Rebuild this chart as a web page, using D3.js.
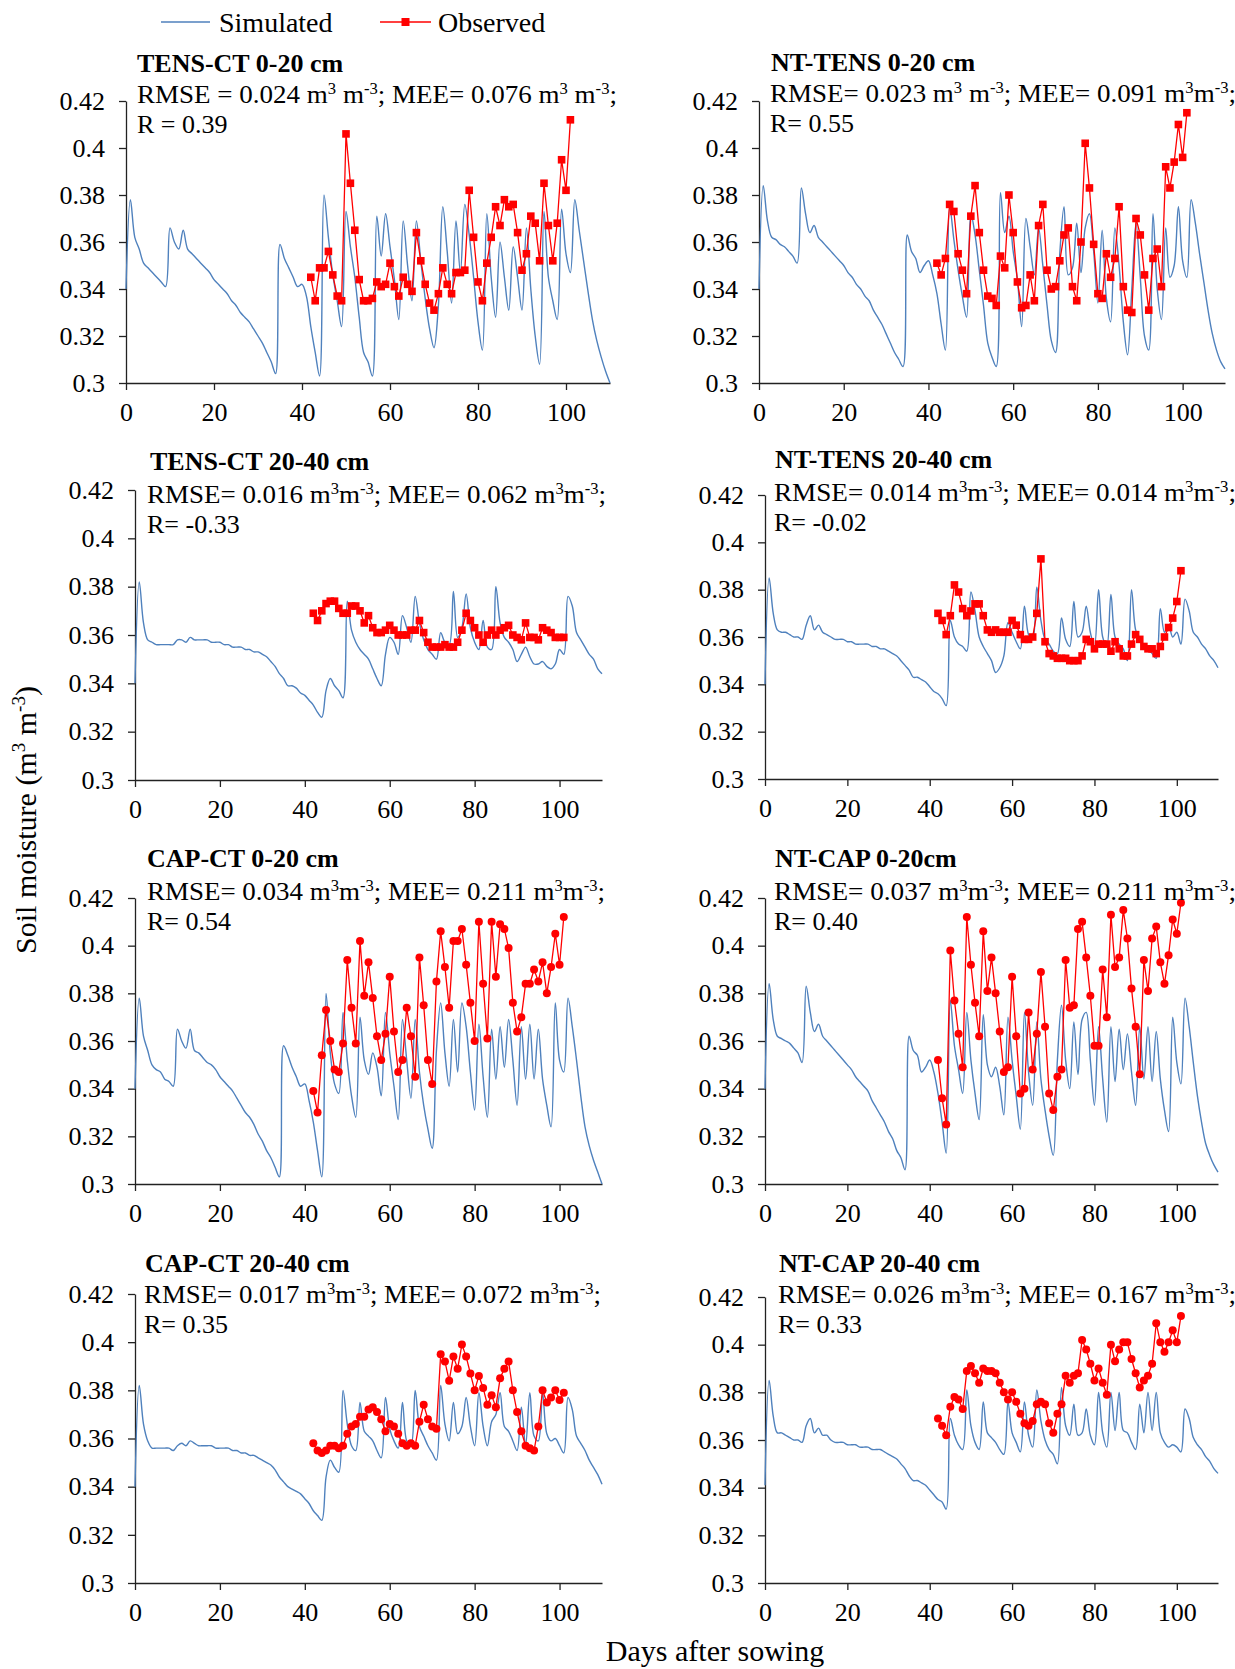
<!DOCTYPE html>
<html>
<head>
<meta charset="utf-8">
<script src="https://cdn.jsdelivr.net/npm/d3@7"></script>
<style>
  body { margin: 0; background: #fff; }
  svg, svg text { font-family: "Liberation Serif", "Times New Roman", serif; }
</style>
</head>
<body>
<div id="chart"></div>
<script>
// days after sowing
var simDays = d3.range(0, 111);
var obsDays = d3.range(42, 102);

var xTicks = [0, 20, 40, 60, 80, 100];
var yTicks = [0.3, 0.32, 0.34, 0.36, 0.38, 0.4, 0.42];
var yTickLabels = ["0.3", "0.32", "0.34", "0.36", "0.38", "0.4", "0.42"];

var panelTitles = ["TENS-CT 0-20 cm", "NT-TENS 0-20 cm", "TENS-CT 20-40 cm", "NT-TENS 20-40 cm",
                   "CAP-CT 0-20 cm", "NT-CAP 0-20cm", "CAP-CT 20-40 cm", "NT-CAP 20-40 cm"];
var rmseValues = ["0.024", "0.023", "0.016", "0.014", "0.034", "0.037", "0.017", "0.026"];
var meeValues = ["0.076", "0.091", "0.062", "0.014", "0.211", "0.211", "0.072", "0.167"];
var rValues = ["0.39", "0.55", "-0.33", "-0.02", "0.54", "0.40", "0.35", "0.33"];

// simulated soil moisture, day 0..110
var simTensCt0 = [.340,.378,.362,.357,.351,.349,.347,.345,.343,.341,.366,.360,.357,.365,.357,.355,.353,.351,.349,.347,
  .344,.342,.340,.338,.335,.333,.330,.328,.326,.323,.320,.317,.313,.309,.304,.359,.353,.349,.345,.341,
  .342,.337,.324,.313,.303,.380,.362,.346,.335,.324,.373,.358,.345,.328,.313,.309,.303,.371,.354,.372,
  .358,.344,.327,.369,.350,.335,.369,.352,.336,.323,.315,.333,.375,.356,.334,.369,.347,.376,.363,.345,
  .326,.314,.372,.345,.328,.360,.345,.331,.358,.345,.331,.366,.340,.320,.308,.373,.345,.335,.327,.374,
  .355,.347,.378,.365,.352,.339,.327,.318,.311,.305,.300];
var simNtTens0 = [.340,.384,.369,.362,.361,.359,.358,.356,.354,.351,.383,.372,.364,.367,.362,.360,.358,.356,.354,.352,
  .350,.347,.345,.342,.340,.337,.335,.331,.328,.325,.321,.317,.313,.310,.307,.363,.356,.353,.347,.350,
  .352,.346,.338,.325,.314,.375,.361,.348,.337,.328,.372,.363,.348,.333,.317,.311,.307,.381,.364,.371,
  .356,.344,.324,.370,.358,.346,.366,.350,.333,.318,.313,.355,.375,.346,.349,.368,.347,.366,.372,.356,
  .334,.365,.336,.326,.366,.350,.326,.312,.340,.368,.345,.320,.314,.372,.340,.327,.366,.345,.350,.375,
  .352,.345,.378,.368,.355,.343,.331,.321,.314,.309,.306];
var simTensCt20 = [.340,.382,.365,.358,.357,.356,.356,.356,.356,.356,.358,.358,.357,.359,.358,.358,.358,.358,.357,.357,
  .357,.356,.356,.355,.355,.355,.354,.354,.353,.353,.352,.351,.349,.347,.344,.342,.339,.339,.338,.336,
  .335,.333,.331,.328,.326,.337,.342,.339,.337,.334,.374,.362,.357,.354,.352,.350,.346,.342,.339,.352,
  .359,.357,.352,.368,.363,.357,.376,.365,.358,.354,.352,.350,.361,.357,.356,.378,.359,.363,.377,.363,
  .357,.354,.366,.355,.354,.380,.365,.359,.357,.354,.349,.352,.355,.351,.348,.348,.349,.347,.346,.348,
  .354,.352,.376,.372,.361,.358,.355,.352,.350,.346,.344];
var simNtTens20 = [.340,.385,.370,.363,.362,.362,.361,.360,.360,.359,.365,.369,.363,.365,.362,.361,.360,.359,.359,.359,
  .358,.358,.357,.357,.357,.357,.356,.356,.355,.355,.354,.353,.352,.350,.348,.346,.343,.343,.342,.341,
  .339,.337,.336,.334,.331,.367,.360,.357,.356,.354,.379,.371,.360,.356,.353,.350,.345,.347,.352,.366,
  .362,.358,.355,.373,.361,.359,.381,.367,.359,.357,.354,.353,.368,.359,.356,.375,.360,.362,.373,.362,
  .356,.380,.360,.356,.378,.360,.357,.355,.350,.380,.363,.359,.356,.355,.353,.351,.372,.362,.365,.360,
  .362,.357,.376,.371,.362,.360,.357,.355,.352,.350,.347];
var simCapCt0 = [.340,.378,.362,.356,.350,.348,.347,.344,.343,.341,.365,.360,.357,.365,.356,.355,.353,.351,.350,.348,
  .345,.343,.341,.339,.336,.333,.330,.328,.325,.321,.318,.314,.311,.307,.303,.358,.354,.349,.345,.341,
  .342,.335,.326,.314,.303,.380,.355,.342,.338,.372,.352,.337,.328,.370,.352,.346,.355,.349,.337,.372,
  .355,.341,.327,.369,.352,.336,.369,.347,.333,.323,.315,.356,.376,.355,.341,.369,.347,.376,.366,.347,
  .331,.367,.345,.328,.365,.344,.366,.349,.369,.352,.333,.366,.344,.367,.344,.365,.344,.333,.324,.376,
  .352,.347,.378,.366,.352,.337,.324,.316,.310,.305,.300];
var simNtCap0 = [.340,.384,.369,.362,.361,.360,.359,.357,.355,.351,.383,.372,.364,.367,.362,.360,.358,.356,.354,.352,
  .350,.348,.345,.343,.341,.339,.335,.332,.329,.326,.322,.319,.314,.311,.306,.362,.356,.354,.347,.349,
  .352,.347,.338,.326,.313,.377,.358,.348,.338,.372,.352,.338,.327,.371,.350,.345,.349,.341,.329,.370,
  .352,.337,.323,.372,.347,.333,.368,.344,.331,.320,.312,.352,.375,.352,.340,.368,.346,.369,.372,.352,
  .333,.366,.344,.326,.366,.343,.365,.348,.363,.347,.333,.366,.344,.366,.343,.364,.344,.331,.322,.370,
  .351,.342,.378,.366,.351,.337,.326,.317,.312,.308,.305];
var simCapCt20 = [.340,.382,.366,.359,.356,.356,.356,.356,.356,.355,.357,.358,.357,.359,.358,.357,.357,.357,.357,.356,
  .356,.356,.356,.355,.355,.354,.354,.353,.353,.352,.351,.350,.349,.347,.344,.342,.340,.339,.338,.337,
  .335,.333,.330,.328,.326,.344,.351,.348,.346,.380,.366,.357,.355,.375,.363,.361,.359,.355,.352,.377,
  .364,.359,.356,.375,.359,.357,.380,.365,.361,.357,.354,.351,.382,.366,.359,.375,.362,.365,.377,.365,
  .357,.379,.365,.357,.367,.370,.379,.365,.363,.359,.355,.373,.357,.379,.361,.359,.379,.362,.359,.360,
  .357,.354,.377,.372,.361,.358,.355,.351,.348,.345,.341];
var simNtCap20 = [.341,.385,.370,.363,.363,.362,.361,.360,.360,.359,.366,.369,.363,.365,.362,.362,.360,.359,.359,.359,
  .358,.358,.358,.357,.357,.357,.356,.356,.356,.355,.354,.353,.352,.350,.348,.345,.343,.343,.342,.341,
  .339,.337,.335,.334,.331,.369,.362,.358,.356,.381,.366,.359,.356,.376,.363,.361,.359,.356,.354,.376,
  .363,.359,.355,.376,.362,.357,.381,.368,.360,.356,.354,.350,.382,.366,.362,.375,.362,.363,.373,.362,
  .358,.380,.363,.357,.380,.364,.380,.364,.363,.359,.356,.375,.363,.380,.364,.380,.363,.359,.357,.358,
  .357,.355,.373,.369,.361,.358,.356,.353,.351,.348,.346];

// observed soil moisture, day 42..101
var obsTensCt0 = [.345,.335,.349,.349,.356,.346,.337,.335,.406,.385,.365,.344,.335,.335,.336,.343,.341,.342,.351,.341,
  .337,.345,.342,.339,.364,.352,.342,.334,.331,.338,.349,.342,.338,.347,.347,.348,.382,.362,.343,.335,
  .351,.362,.375,.367,.378,.375,.376,.364,.348,.355,.371,.368,.352,.385,.367,.352,.368,.395,.382,.412];
var obsNtTens0 = [.351,.346,.353,.376,.373,.355,.348,.338,.371,.384,.364,.348,.337,.336,.333,.354,.349,.380,.364,.343,
  .332,.333,.346,.335,.367,.376,.348,.340,.341,.352,.363,.366,.341,.335,.360,.402,.383,.359,.338,.336,
  .355,.345,.353,.375,.341,.331,.330,.370,.363,.346,.331,.353,.357,.341,.392,.383,.394,.410,.396,.415];
var obsTensCt20 = [.369,.366,.370,.373,.374,.374,.371,.369,.369,.372,.372,.370,.365,.368,.363,.361,.361,.362,.364,.362,
  .360,.360,.360,.362,.362,.366,.361,.357,.355,.355,.355,.356,.355,.355,.357,.362,.369,.366,.363,.360,
  .357,.360,.362,.360,.362,.363,.364,.360,.359,.358,.365,.359,.359,.358,.363,.362,.361,.359,.359,.359];
var obsNtTens20 = [.370,.367,.361,.369,.382,.379,.372,.369,.371,.374,.374,.369,.363,.362,.363,.362,.362,.362,.367,.365,
  .361,.359,.359,.360,.370,.393,.358,.353,.352,.351,.351,.351,.350,.350,.350,.352,.359,.358,.355,.357,
  .357,.357,.354,.358,.355,.352,.352,.357,.361,.359,.356,.355,.355,.353,.356,.360,.364,.368,.375,.388];
var obsCapCt0 = [.339,.330,.354,.373,.360,.348,.347,.359,.394,.374,.359,.402,.379,.393,.378,.362,.352,.363,.387,.364,
  .347,.352,.374,.362,.345,.395,.375,.352,.342,.385,.406,.391,.374,.402,.402,.407,.392,.376,.360,.410,
  .384,.361,.410,.387,.409,.407,.399,.376,.364,.370,.384,.384,.390,.385,.393,.380,.391,.405,.392,.412];
var obsNtCap0 = [.352,.336,.325,.398,.377,.363,.349,.412,.392,.376,.362,.406,.381,.395,.380,.364,.347,.349,.387,.362,
  .338,.340,.372,.348,.363,.389,.366,.338,.331,.345,.348,.394,.374,.375,.407,.410,.395,.379,.358,.358,
  .390,.370,.413,.391,.395,.415,.403,.382,.366,.346,.394,.381,.403,.408,.393,.384,.396,.411,.405,.418];
var obsCapCt20 = [.358,.355,.354,.355,.357,.357,.356,.357,.362,.365,.366,.369,.369,.372,.373,.371,.368,.363,.366,.365,
  .362,.358,.357,.358,.357,.367,.374,.368,.365,.364,.395,.392,.384,.394,.389,.399,.394,.387,.380,.386,
  .381,.374,.378,.373,.385,.389,.392,.380,.371,.363,.357,.356,.355,.365,.380,.375,.377,.380,.376,.379];
var obsNtCap20 = [.369,.366,.362,.374,.378,.377,.373,.389,.391,.388,.384,.390,.389,.389,.388,.384,.380,.377,.380,.376,
  .371,.367,.366,.368,.375,.376,.375,.367,.363,.371,.375,.387,.384,.387,.388,.402,.398,.392,.385,.390,
  .384,.379,.400,.393,.398,.401,.401,.394,.388,.382,.385,.387,.392,.409,.401,.397,.401,.406,.401,.412];

var simSeries = [simTensCt0, simNtTens0, simTensCt20, simNtTens20, simCapCt0, simNtCap0, simCapCt20, simNtCap20];
var obsSeries = [obsTensCt0, obsNtTens0, obsTensCt20, obsNtTens20, obsCapCt0, obsNtCap0, obsCapCt20, obsNtCap20];

var simColor = "#4f81bd";
var obsColor = "#ff0000";
var serif = '"Liberation Serif", "Times New Roman", serif';

// plot boxes, pixels
var panels = [
  {x0: 126, x1: 610, yTop: 101, yBot: 383, tx: 137, ty: 72, sx: 137, sy: 103, sw: 480, marker: "square"},
  {x0: 759, x1: 1225, yTop: 101, yBot: 383, tx: 771, ty: 71, sx: 770, sy: 102, sw: 466, marker: "square"},
  {x0: 135, x1: 602, yTop: 490, yBot: 780, tx: 150, ty: 470, sx: 147, sy: 503, sw: 459, marker: "square"},
  {x0: 765, x1: 1218, yTop: 495, yBot: 779, tx: 775, ty: 468, sx: 774, sy: 501, sw: 462, marker: "square"},
  {x0: 135, x1: 602, yTop: 898, yBot: 1184, tx: 147, ty: 867, sx: 147, sy: 900, sw: 458, marker: "circle"},
  {x0: 765, x1: 1218, yTop: 898, yBot: 1184, tx: 775, ty: 867, sx: 774, sy: 900, sw: 462, marker: "circle"},
  {x0: 135, x1: 602, yTop: 1294, yBot: 1583, tx: 145, ty: 1272, sx: 144, sy: 1303, sw: 457, marker: "circle"},
  {x0: 765, x1: 1218, yTop: 1297, yBot: 1583, tx: 779, ty: 1272, sx: 778, sy: 1303, sw: 458, marker: "circle"}
];

var svgWidth = 1235;
var svgHeight = 1669;

var svg = d3.select("#chart")
  .append("svg")
  .attr("width", svgWidth)
  .attr("height", svgHeight)
  .style("font-family", serif);

// write "m3 m-3" style units with raised exponents
function addUnits(text, gap) {
  text.append("tspan").text(" m");
  text.append("tspan").attr("dy", -9).attr("font-size", "16px").text("3");
  text.append("tspan").attr("dy", 9).text(gap ? " m" : "m");
  text.append("tspan").attr("dy", -9).attr("font-size", "16px").text("-3");
  text.append("tspan").attr("dy", 9).text(";");
}

function styleAxis(a) {
  a.attr("font-family", null);
  a.selectAll("text")
    .style("font-family", serif)
    .style("font-size", "26px")
    .attr("fill", "#000");
  a.selectAll("line,path").attr("stroke", "#222").attr("stroke-width", 1.3);
}

panels.forEach(function (p, i) {
  var x = d3.scaleLinear().domain([0, 110]).range([p.x0, p.x1]);
  var y = d3.scaleLinear().domain([0.3, 0.42]).range([p.yBot, p.yTop]);

  var g = svg.append("g");

  g.append("g")
    .attr("transform", `translate(${p.x0},0)`)
    .call(d3.axisLeft(y).tickValues(yTicks).tickFormat((d, k) => yTickLabels[k])
      .tickSize(7).tickSizeOuter(0).tickPadding(14))
    .call(styleAxis);

  g.append("g")
    .attr("transform", `translate(0,${p.yBot})`)
    .call(d3.axisBottom(x).tickValues(xTicks).tickFormat(d3.format("d"))
      .tickSize(7).tickSizeOuter(0).tickPadding(13))
    .call(styleAxis);

  // simulated
  var simLine = d3.line()
    .x((d, k) => x(simDays[k]))
    .y(d => y(d))
    .curve(d3.curveCatmullRom.alpha(0.5));

  g.append("path")
    .datum(simSeries[i])
    .attr("fill", "none")
    .attr("stroke", simColor)
    .attr("stroke-width", 1.4)
    .attr("d", simLine);

  // observed
  var obsLine = d3.line()
    .x((d, k) => x(obsDays[k]))
    .y(d => y(d));

  g.append("path")
    .datum(obsSeries[i])
    .attr("fill", "none")
    .attr("stroke", obsColor)
    .attr("stroke-width", 1.3)
    .attr("d", obsLine);

  if (p.marker == "square") {
    g.selectAll(".pt")
      .data(obsSeries[i])
      .enter()
      .append("rect")
      .attr("x", (d, k) => x(obsDays[k]) - 3.8)
      .attr("y", d => y(d) - 3.8)
      .attr("width", 7.6)
      .attr("height", 7.6)
      .attr("fill", obsColor);
  } else {
    g.selectAll(".pt")
      .data(obsSeries[i])
      .enter()
      .append("circle")
      .attr("cx", (d, k) => x(obsDays[k]))
      .attr("cy", d => y(d))
      .attr("r", 4)
      .attr("fill", obsColor);
  }

  // title and statistics
  g.append("text")
    .attr("x", p.tx)
    .attr("y", p.ty)
    .attr("font-size", "26px")
    .attr("font-weight", "bold")
    .text(panelTitles[i]);

  var s = g.append("text")
    .attr("x", p.sx)
    .attr("y", p.sy)
    .attr("font-size", "26px")
    .attr("textLength", p.sw)
    .attr("lengthAdjust", "spacingAndGlyphs");
  s.append("tspan").text(i == 0 ? "RMSE = " + rmseValues[i] : "RMSE= " + rmseValues[i]);
  addUnits(s, i < 2);
  s.append("tspan").text(" MEE= " + meeValues[i]);
  addUnits(s, i == 0);

  g.append("text")
    .attr("x", p.sx)
    .attr("y", p.sy + 30)
    .attr("font-size", "26px")
    .text((i == 0 ? "R = " : "R= ") + rValues[i]);
});

// legend
var legend = svg.append("g").attr("font-size", "28px");
legend.append("line")
  .attr("x1", 161).attr("x2", 210).attr("y1", 22).attr("y2", 22)
  .attr("stroke", simColor).attr("stroke-width", 1.5);
legend.append("text").attr("x", 219).attr("y", 32).text("Simulated");
legend.append("line")
  .attr("x1", 380).attr("x2", 431).attr("y1", 22).attr("y2", 22)
  .attr("stroke", obsColor).attr("stroke-width", 1.5);
legend.append("rect")
  .attr("x", 401.5).attr("y", 18).attr("width", 8).attr("height", 8)
  .attr("fill", obsColor);
legend.append("text").attr("x", 438).attr("y", 32).text("Observed");

// axis titles
var yTitle = svg.append("text")
  .attr("transform", "translate(36,820) rotate(-90)")
  .attr("text-anchor", "middle")
  .attr("font-size", "30px");
yTitle.append("tspan").text("Soil moisture (m");
yTitle.append("tspan").attr("dy", -11).attr("font-size", "19px").text("3");
yTitle.append("tspan").attr("dy", 11).text(" m");
yTitle.append("tspan").attr("dy", -11).attr("font-size", "19px").text("-3");
yTitle.append("tspan").attr("dy", 11).text(")");

svg.append("text")
  .attr("x", 715)
  .attr("y", 1661)
  .attr("text-anchor", "middle")
  .attr("font-size", "30px")
  .text("Days after sowing");
</script>
</body>
</html>
